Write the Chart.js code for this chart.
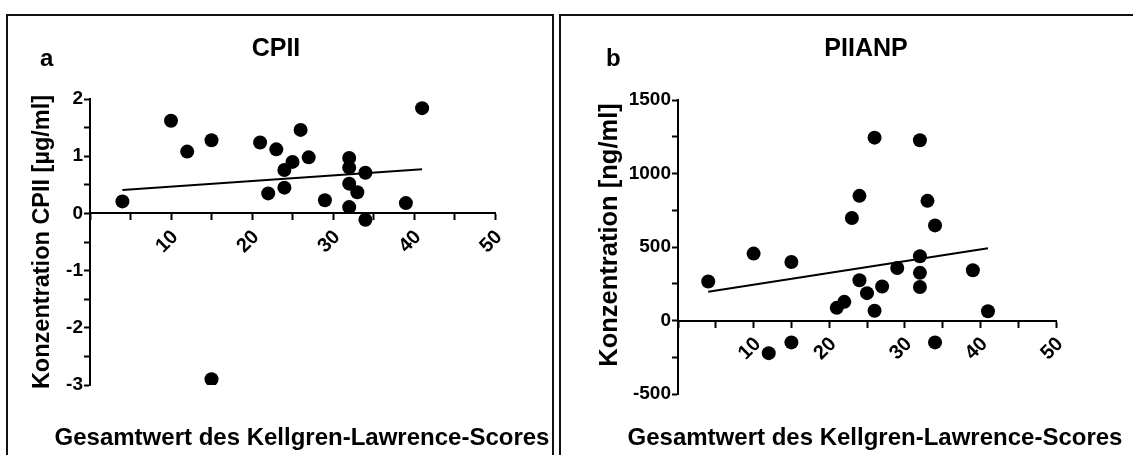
<!DOCTYPE html>
<html><head><meta charset="utf-8">
<script src="https://cdn.jsdelivr.net/npm/chart.js@4.4.0/dist/chart.umd.min.js"></script>
<style>
html,body{margin:0;padding:0;background:#fff;}
body{width:1133px;height:455px;position:relative;overflow:hidden;}
.frame{position:absolute;border:2px solid #111;box-sizing:border-box;}
canvas{position:absolute;top:0;}
</style></head><body>
<div class="frame" style="left:6px;top:14px;width:548px;height:470px"></div>
<div class="frame" style="left:559px;top:14px;width:600px;height:470px"></div>
<canvas id="ca" width="553" height="455" style="left:0px"></canvas>
<canvas id="cb" width="573" height="455" style="left:560px"></canvas>
<script>
// ---- data ----
const klScoreA = [4,10,12,15,15,21,22,23,24,24,25,26,27,29,32,32,32,32,33,34,34,39,41];
const cp2Values = [0.21,1.62,1.08,1.28,-2.90,1.24,0.35,1.12,0.76,0.45,0.90,1.46,0.98,0.23,0.97,0.80,0.52,0.11,0.37,0.71,-0.11,0.18,1.84];
const cp2FitX = [4,41];
const cp2FitY = [0.41,0.77];

const klScoreB = [4,10,12,15,15,21,22,23,24,24,25,26,26,27,29,32,32,32,32,33,34,34,39,41];
const piianpValues = [265,455,-222,398,-149,86,127,697,848,274,186,1244,66,231,357,1226,437,324,228,814,647,-149,342,63];
const piianpFitX = [4,41];
const piianpFitY = [195,492];

const xTickLabels = ['10','20','30','40','50'];
const yTickLabelsA = ['-3','-2','-1','0','1','2'];
const yTickLabelsB = ['-500','0','500','1000','1500'];

const xTitle = 'Gesamtwert des Kellgren-Lawrence-Scores';
const titleA = 'CPII', titleB = 'PIIANP';
const yTitleA = 'Konzentration CPII [µg/ml]';
const yTitleB = 'Konzentration [ng/ml]';

// ---- rendering ----
const FAM = '"Liberation Sans", Arial, Helvetica, sans-serif';

const panelText = {
  id: 'panelText',
  afterDraw(chart, args, opts) {
    const ctx = chart.ctx;
    (opts.items || []).forEach(it => {
      ctx.save();
      ctx.fillStyle = '#000';
      ctx.font = 'bold ' + it.size + 'px ' + FAM;
      ctx.textAlign = it.align || 'center';
      ctx.textBaseline = it.baseline || 'alphabetic';
      ctx.translate(it.x, it.y);
      if (it.rot) ctx.rotate(it.rot * Math.PI / 180);
      ctx.fillText(it.text, 0, 0);
      ctx.restore();
    });
  }
};

function pts(xs, ys) { return xs.map((x, i) => ({x: x, y: ys[i]})); }

function makePanel(id, c) {
  const axisGrid = {drawOnChartArea: false, drawTicks: true, tickLength: 6, tickWidth: 2, tickColor: '#000'};
  const axisBorder = {display: true, color: '#000', width: 2};
  return new Chart(document.getElementById(id), {
    type: 'scatter',
    data: {
      datasets: [
        {data: pts(c.xs, c.ys), backgroundColor: '#000', borderWidth: 0, pointRadius: 7, pointHoverRadius: 7, order: 1},
        {type: 'line', data: pts(c.fx, c.fy), borderColor: '#000', borderWidth: 2, pointRadius: 0, fill: false, order: 2}
      ]
    },
    options: {
      responsive: false, animation: false, devicePixelRatio: 1,
      events: [],
      layout: {padding: c.pad},
      plugins: {legend: {display: false}, tooltip: {enabled: false}, panelText: {items: c.texts}},
      scales: {
        x: {
          type: 'linear', position: {y: 0}, min: 0, max: 50,
          ticks: {stepSize: 5, autoSkip: false, maxRotation: 45, minRotation: 45, padding: 6, labelOffset: 4, color: '#000',
            font: {family: FAM, size: 20, weight: 'bold'},
            callback: v => xTickLabels.includes(String(v)) ? String(v) : ''},
          grid: axisGrid, border: axisBorder
        },
        y: {
          type: 'linear', position: 'left', min: c.ymin, max: c.ymax,
          afterFit: s => { s.width = c.yw; },
          ticks: {stepSize: c.ystep, autoSkip: false, padding: 1, color: '#000',
            font: {family: FAM, size: 19, weight: 'bold'},
            callback: v => c.ylabels.includes(String(v)) ? String(v) : ''},
          grid: axisGrid, border: axisBorder
        }
      }
    },
    plugins: [panelText]
  });
}

makePanel('ca', {
  xs: klScoreA, ys: cp2Values, fx: cp2FitX, fy: cp2FitY,
  ymin: -3, ymax: 2, ystep: 0.5, ylabels: yTickLabelsA, yw: 60,
  pad: {left: 30, top: 99, right: 58, bottom: 70},
  texts: [
    {text: 'a', x: 40, y: 66, align: 'left', size: 24},
    {text: titleA, x: 276, y: 56, size: 25},
    {text: yTitleA, x: 43, y: 242, rot: -90, baseline: 'middle', size: 23.5},
    {text: xTitle, x: 302, y: 445, size: 24}
  ]
});

makePanel('cb', {
  xs: klScoreB, ys: piianpValues, fx: piianpFitX, fy: piianpFitY,
  ymin: -500, ymax: 1500, ystep: 250, ylabels: yTickLabelsB, yw: 70,
  pad: {left: 48, top: 100, right: 77, bottom: 61},
  texts: [
    {text: 'b', x: 46, y: 66, align: 'left', size: 24},
    {text: titleB, x: 306, y: 56, size: 25},
    {text: yTitleB, x: 50, y: 235, rot: -90, baseline: 'middle', size: 25.5},
    {text: xTitle, x: 315, y: 445, size: 24}
  ]
});
</script>
</body></html>
